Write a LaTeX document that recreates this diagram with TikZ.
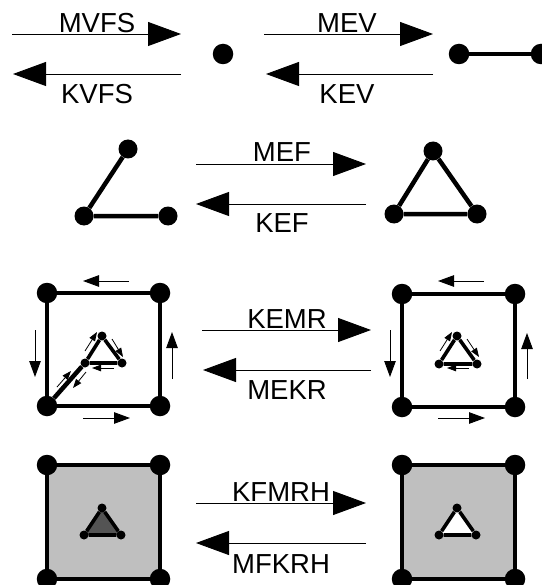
\documentclass[tikz,border=0pt]{standalone}
\usepackage{fontspec}
\setmainfont{Liberation Sans}
\usetikzlibrary{arrows.meta}
\tikzset{
 x=1pt,y=-1pt,
 bigdot/.style={circle,fill=black,inner sep=0pt,minimum size=20.5pt},
 middot/.style={circle,fill=black,inner sep=0pt,minimum size=19pt},
 tinydot/.style={circle,fill=black,inner sep=0pt,minimum size=9pt},
 thickedge/.style={line width=4.5pt,black},
 thinedge/.style={line width=3.6pt,black},
 opbig/.style={line width=0.9pt,-{Triangle[length=33pt,width=24pt]}},
 opsmall/.style={line width=0.9pt,-{Triangle[length=16pt,width=11.5pt]}},
 optiny/.style={line width=0.8pt,-{Triangle[length=9pt,width=6.5pt]}},
 lab/.style={font=\fontsize{27.5}{27.5}\selectfont,inner sep=0pt,anchor=base},
}
\newcommand{\sq}[5]{% prefix, x1, x2, y1, y2
 \node[bigdot] (#1a) at (#2,#4) {};
 \node[bigdot] (#1b) at (#3,#4) {};
 \node[bigdot] (#1c) at (#2,#5) {};
 \node[bigdot] (#1d) at (#3,#5) {};
}
\begin{document}
\begin{tikzpicture}
\useasboundingbox (0,0) rectangle (541,585);
% Row 1
\coordinate (a1s) at (12,34); \coordinate (a1e) at (181,34);
\coordinate (a2s) at (181,74); \coordinate (a2e) at (13,74);
\draw[opbig] (a1s) -- (a1e);
\draw[opbig] (a2s) -- (a2e);
\node[lab] (mvfs) at (97,33) {MVFS};
\node[lab] (kvfs) at (97,104) {KVFS};
\node[bigdot] (p0) at (223,54) {};
\coordinate (a3s) at (264,34); \coordinate (a3e) at (433,34);
\coordinate (a4s) at (433,74); \coordinate (a4e) at (266,74);
\draw[opbig] (a3s) -- (a3e);
\draw[opbig] (a4s) -- (a4e);
\node[lab] (mev) at (347,33) {MEV};
\node[lab] (kev) at (347,104) {KEV};
\node[bigdot] (p1) at (459,54) {};
\node[bigdot] (p2) at (541,54) {};
\draw[thickedge] (p1) -- (p2);
% Row 2
\node[middot] (t1) at (128,149) {};
\node[middot] (t2) at (84,216) {};
\node[middot] (t3) at (168,216) {};
\draw[thickedge] (t1) -- (t2) -- (t3);
\coordinate (a5s) at (196,164); \coordinate (a5e) at (366,164);
\coordinate (a6s) at (366,204); \coordinate (a6e) at (196,204);
\draw[opbig] (a5s) -- (a5e);
\draw[opbig] (a6s) -- (a6e);
\node[lab] (mef) at (282,162) {MEF};
\node[lab] (kef) at (282,232) {KEF};
\node[middot] (u1) at (433,151) {};
\node[middot] (u2) at (394,214) {};
\node[middot] (u3) at (477,214) {};
\draw[thickedge] (u1) -- (u2) -- (u3) -- (u1);
% Row 3 left
\sq{l}{47}{160}{293}{406}
\draw[thickedge] (la) -- (lb) -- (ld) -- (lc) -- (la);
\node[tinydot] (li1) at (102,336) {};
\node[tinydot] (li2) at (85,363) {};
\node[tinydot] (li3) at (122,363) {};
\draw[thinedge] (li1) -- (li2) -- (li3) -- (li1);
\draw[thickedge] (lc) -- (li2);
\foreach \n/\xa/\ya/\xb/\yb in {a/129/281/83/281,b/35/330/35/377,c/172/379/172/332,d/83/418/130/418}{
 \coordinate (ls\n) at (\xa,\ya); \coordinate (le\n) at (\xb,\yb);
 \draw[opsmall] (ls\n) -- (le\n);
}
\foreach \n/\xa/\ya/\xb/\yb in {a/85/351/97/332,b/112/339/123/357,c/114/368/92/368,d/86/372/73/388,e/57/387/71/371}{
 \coordinate (lt\n) at (\xa,\ya); \coordinate (lf\n) at (\xb,\yb);
 \draw[optiny] (lt\n) -- (lf\n);
}
\coordinate (a7s) at (202,330); \coordinate (a7e) at (371,330);
\coordinate (a8s) at (371,370); \coordinate (a8e) at (203,370);
\draw[opbig] (a7s) -- (a7e);
\draw[opbig] (a8s) -- (a8e);
\node[lab] (kemr) at (287,328) {KEMR};
\node[lab] (mekr) at (287,399) {MEKR};
% Row 3 right
\sq{r}{402}{515}{294}{407}
\draw[thickedge] (ra) -- (rb) -- (rd) -- (rc) -- (ra);
\node[tinydot] (ri1) at (457,336) {};
\node[tinydot] (ri2) at (439,364) {};
\node[tinydot] (ri3) at (477,364) {};
\draw[thinedge] (ri1) -- (ri2) -- (ri3) -- (ri1);
\foreach \n/\xa/\ya/\xb/\yb in {a/484/281/438/281,b/390/330/390/377,c/527/379/527/333,d/438/418/485/418}{
 \coordinate (rs\n) at (\xa,\ya); \coordinate (re\n) at (\xb,\yb);
 \draw[opsmall] (rs\n) -- (re\n);
}
\foreach \n/\xa/\ya/\xb/\yb in {a/440/351/452/332,b/467/339/479/357,c/469/368/447/368}{
 \coordinate (rt\n) at (\xa,\ya); \coordinate (rf\n) at (\xb,\yb);
 \draw[optiny] (rt\n) -- (rf\n);
}
% Row 4 left
\fill[black!25] (47,465) rectangle (160,579);
\sq{m}{47}{160}{465}{579}
\draw[thickedge] (ma) -- (mb) -- (md) -- (mc) -- (ma);
\fill[black!67] (102,508) -- (84,535) -- (121,535) -- cycle;
\node[tinydot] (mi1) at (102,508) {};
\node[tinydot] (mi2) at (84,535) {};
\node[tinydot] (mi3) at (121,535) {};
\draw[thinedge] (mi1) -- (mi2) -- (mi3) -- (mi1);
\coordinate (a9s) at (196,503); \coordinate (a9e) at (366,503);
\coordinate (a10s) at (366,543); \coordinate (a10e) at (196,543);
\draw[opbig] (a9s) -- (a9e);
\draw[opbig] (a10s) -- (a10e);
\node[lab] (kfmrh) at (281,501) {KFMRH};
\node[lab] (mfkrh) at (281,573) {MFKRH};
% Row 4 right
\fill[black!25] (402,465) rectangle (515,579);
\sq{n}{402}{515}{465}{579}
\draw[thickedge] (na) -- (nb) -- (nd) -- (nc) -- (na);
\fill[white] (457,508) -- (439,535) -- (476,535) -- cycle;
\node[tinydot] (ni1) at (457,508) {};
\node[tinydot] (ni2) at (439,535) {};
\node[tinydot] (ni3) at (476,535) {};
\draw[thinedge] (ni1) -- (ni2) -- (ni3) -- (ni1);
\end{tikzpicture}
\end{document}
